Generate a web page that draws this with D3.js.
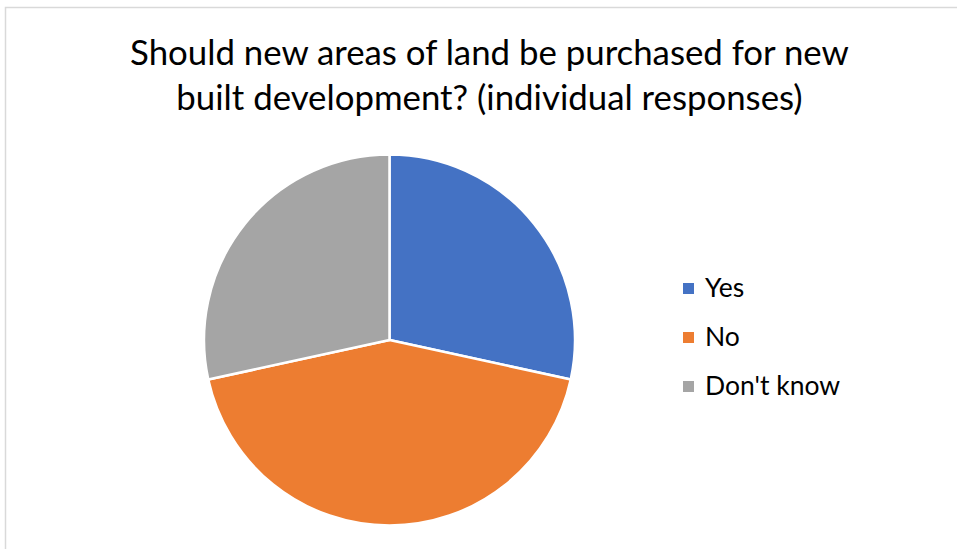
<!DOCTYPE html>
<html>
<head>
<meta charset="utf-8">
<script src="https://cdn.jsdelivr.net/npm/d3@7"></script>
<style>
  html, body { margin: 0; padding: 0; background: #fff; }
  svg { display: block; }
</style>
</head>
<body>
<svg id="chart" width="957" height="549"></svg>
<script>
// Survey responses
const categories = ["Yes", "No", "Don't know"];
const counts = [27, 41, 27];
const colors = ["#4472c4", "#ed7d31", "#a5a5a5"];
const titleLines = ["Should new areas of land be purchased for new", "built development? (individual responses)"];

const width = 957, height = 549;
const svg = d3.select("#chart");
const fontFamily = "Lato, 'Open Sans', sans-serif";

// Chart frame
svg.append("rect")
  .attr("x", 5.5).attr("y", 7.5)
  .attr("width", width + 10).attr("height", height + 10)
  .attr("fill", "#fff")
  .attr("stroke", "#d9d9d9")
  .attr("stroke-width", 1.5);

// Title
svg.append("g")
  .selectAll("text")
  .data(titleLines)
  .join("text")
  .attr("x", 489.5)
  .attr("y", (d, i) => 65 + i * 45)
  .attr("text-anchor", "middle")
  .attr("font-family", fontFamily)
  .attr("font-size", 34.8)
  .attr("fill", "#000")
  .text(d => d);

// Pie
const cx = 389.5, cy = 340, r = 185.5;
const data = categories.map((c, i) => ({ category: c, value: counts[i], color: colors[i] }));
const pie = d3.pie().value(d => d.value).sort(null);
const arc = d3.arc().innerRadius(0).outerRadius(r);

svg.append("g")
  .attr("transform", `translate(${cx},${cy})`)
  .selectAll("path")
  .data(pie(data))
  .join("path")
  .attr("d", arc)
  .attr("fill", d => d.data.color)
  .attr("stroke", "#fff")
  .attr("stroke-width", 2.5)
  .attr("stroke-linejoin", "round");

// Legend
const legend = svg.append("g").attr("transform", "translate(683,297)");
const items = legend.selectAll("g")
  .data(data)
  .join("g")
  .attr("transform", (d, i) => `translate(0,${i * 49})`);
items.append("rect")
  .attr("x", 0).attr("y", -14)
  .attr("width", 11).attr("height", 11)
  .attr("fill", d => d.color);
items.append("text")
  .attr("x", 22).attr("y", 0)
  .attr("font-family", fontFamily)
  .attr("font-size", 26.5)
  .attr("fill", "#000")
  .text(d => d.category);
</script>
</body>
</html>
